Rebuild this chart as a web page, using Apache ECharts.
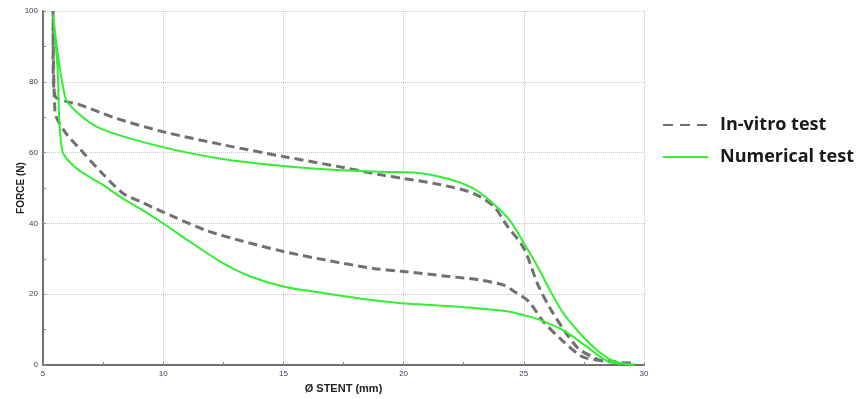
<!DOCTYPE html>
<html>
<head>
<meta charset="utf-8">
<script src="https://cdn.jsdelivr.net/npm/echarts@6/dist/echarts.min.js"></script>
<style>
  html, body { margin: 0; padding: 0; background: #fff; }
  #main { width: 862px; height: 399px; }
</style>
</head>
<body>
<div id="main"></div>
<script>
// in-vitro test: upper branch (right -> left), then lower branch (left -> right)
const invitroX = [29.46, 28.3, 27.8, 27.25, 26.7, 26.1, 25.6, 25.0, 24.3, 23.75, 22.9, 21.5, 20.0, 19.0, 17.5, 15.0, 12.5, 10.0, 8.0, 6.54, 5.9, 5.5, 5.42, 5.42, 5.5, 5.9, 6.54, 7.4, 8.33, 9.04, 10.4, 11.8, 13.2, 15.0, 16.8, 18.75, 19.9, 21.8, 23.2, 24.2, 24.6, 25.2, 25.8, 26.5, 27.4, 28.1, 29.0]
const invitroY = [0.6, 1.1, 2.5, 4.8, 9.6, 16.0, 22.5, 33.0, 39.4, 44.8, 48.5, 51.0, 52.7, 53.8, 55.8, 58.9, 62.2, 65.9, 69.8, 73.5, 74.6, 76.0, 86, 100, 71.5, 66.0, 61.0, 54.6, 48.5, 46.2, 42.0, 38.0, 35.2, 32.1, 29.6, 27.3, 26.5, 25.1, 24.0, 22.5, 20.8, 18.0, 12.4, 7.6, 2.5, 1.4, 0.9]

// numerical test: upper branch (right -> left), then lower branch (left -> right)
const numericalX = [29.6, 28.75, 28.1, 27.4, 26.7, 26.1, 25.6, 25.0, 24.4, 23.75, 22.9, 21.8, 20.4, 19.0, 17.4, 14.9, 12.4, 9.9, 7.4, 6.4, 5.92, 5.42, 5.6, 5.8, 6.4, 7.4, 8.33, 9.04, 10.0, 11.1, 12.5, 13.6, 15.0, 16.7, 18.75, 19.9, 22.0, 24.3, 25.0, 25.7, 26.7, 27.7, 28.5, 29.6]
const numericalY = [0.0, 1.1, 3.9, 8.5, 14.1, 21.0, 27.5, 34.5, 41.0, 45.5, 49.9, 52.7, 54.4, 54.6, 55.0, 56.3, 58.3, 61.7, 66.8, 71.5, 75.8, 99.0, 84.5, 60.6, 55.5, 51.3, 47.0, 44.2, 40.0, 34.9, 28.7, 25.1, 22.2, 20.3, 18.3, 17.5, 16.6, 15.2, 14.1, 12.7, 9.6, 4.8, 1.1, 0.2]

const xTicks = [5, 10, 15, 20, 25, 30]
const yTicks = [0, 20, 40, 60, 80, 100]

function pairs(xs, ys) {
  return xs.map((x, i) => [x, ys[i]])
}

const chart = echarts.init(document.getElementById('main'))

const labelStyle = { color: '#3a3a5a', fontSize: 8, fontFamily: 'Liberation Sans' }

const option = {
  animation: false,
  backgroundColor: '#fff',
  grid: { left: 43, right: 218, top: 11, bottom: 32 },
  legend: {
    orient: 'vertical',
    left: 657,
    top: 111,
    itemWidth: 45,
    itemHeight: 14,
    itemGap: 14,
    itemStyle: { opacity: 0 },
    textStyle: {
      fontSize: 18, fontWeight: 'bold', color: '#1a1a1a', fontFamily: 'Open Sans',
      lineHeight: 18, padding: [0, 0, 0, 7]
    },
    data: [
      { name: 'In-vitro test', lineStyle: { type: [10, 7] } },
      { name: 'Numerical test' }
    ]
  },
  xAxis: {
    type: 'value',
    min: 5,
    max: 30,
    interval: 5,
    name: 'Ø STENT (mm)',
    nameLocation: 'middle',
    nameGap: 17,
    nameTextStyle: { fontSize: 11, fontWeight: 'bold', color: '#222', fontFamily: 'Liberation Sans' },
    axisLine: { lineStyle: { color: '#707070', width: 2 } },
    axisTick: { show: true, inside: true, length: 3, lineStyle: { color: '#888' } },
    minorTick: { show: true, splitNumber: 2, length: 3, lineStyle: { color: '#888' } },
    axisLabel: Object.assign({ margin: 5, formatter: v => (xTicks.includes(v) ? String(v) : '') }, labelStyle),
    splitLine: { show: true, lineStyle: { color: '#c8c8c8', type: 'dotted', width: 1 } }
  },
  yAxis: {
    type: 'value',
    min: 0,
    max: 100,
    interval: 20,
    name: 'FORCE (N)',
    nameLocation: 'middle',
    nameGap: 17,
    nameMoveOverlap: false,
    nameRotate: 90,
    nameTextStyle: { fontSize: 10, fontWeight: 'bold', color: '#222', fontFamily: 'Liberation Sans' },
    axisLine: { show: true, lineStyle: { color: '#707070', width: 2 } },
    axisTick: { show: true, inside: true, length: 3, lineStyle: { color: '#888' } },
    minorTick: { show: true, splitNumber: 2, length: 3, lineStyle: { color: '#888' } },
    axisLabel: Object.assign({ margin: 5, formatter: v => (yTicks.includes(v) ? String(v) : '') }, labelStyle),
    splitLine: { show: true, lineStyle: { color: '#c8c8c8', type: 'dotted', width: 1 } }
  },
  series: [
    {
      name: 'In-vitro test',
      type: 'line',
      data: pairs(invitroX, invitroY),
      symbol: 'none',
      smooth: 0.3,
      color: '#707070',
      lineStyle: { color: '#707070', width: 3, type: [9, 5] },
      z: 2
    },
    {
      name: 'Numerical test',
      type: 'line',
      data: pairs(numericalX, numericalY),
      symbol: 'none',
      smooth: 0.3,
      color: '#33ee33',
      lineStyle: { color: '#33ee33', width: 2 },
      z: 3
    }
  ]
}

chart.setOption(option)
</script>
</body>
</html>
